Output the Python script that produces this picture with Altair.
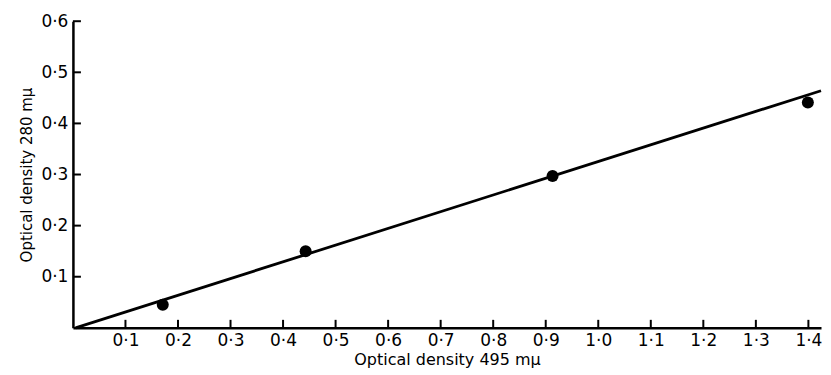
import altair as alt
import pandas as pd

x_obs = [0.171, 0.443, 0.913, 1.399]
y_obs = [0.045, 0.150, 0.297, 0.441]
# Fitted straight line end points
fit_x = [0.005, 1.424]
fit_y = [0.0, 0.464]
# Tick values
x_ticks = [0.1, 0.2, 0.3, 0.4, 0.5, 0.6, 0.7, 0.8, 0.9, 1.0, 1.1, 1.2, 1.3, 1.4]
y_ticks = [0.1, 0.2, 0.3, 0.4, 0.5, 0.6]

W, H = 749, 307
FONT = "DejaVu Sans"
xs = alt.Scale(domain=[0, 1.424], nice=False, zero=False)
ys = alt.Scale(domain=[0, 0.6], nice=False)
label_expr = "replace(format(datum.value, '.1f'), '.', '·')"

common = dict(labelFont=FONT, titleFont=FONT, labelFontSize=17,
              labelColor="black", titleColor="black", titleFontWeight="normal",
              grid=False, tickSize=0, domainColor="black", domainWidth=2.5)
xaxis = alt.Axis(values=x_ticks, labelExpr=label_expr, title="Optical density 495 mμ",
                 titleFontSize=16, labelPadding=5, titlePadding=3, **common)
yaxis = alt.Axis(values=y_ticks, labelExpr=label_expr, title="Optical density 280 mμ",
                 titleFontSize=15, labelPadding=5, titlePadding=6, **common)

pts = pd.DataFrame({"x": x_obs, "y": y_obs})
fit = pd.DataFrame({"x": fit_x, "y": fit_y})
xt = pd.DataFrame({"t": x_ticks})
yt = pd.DataFrame({"t": y_ticks})

points = alt.Chart(pts).mark_point(filled=True, color="black", size=145, opacity=1).encode(
    x=alt.X("x:Q", scale=xs, axis=xaxis),
    y=alt.Y("y:Q", scale=ys, axis=yaxis),
)

line = alt.Chart(fit).mark_line(color="black", strokeWidth=2.8).encode(
    x=alt.X("x:Q", scale=xs, axis=xaxis),
    y=alt.Y("y:Q", scale=ys, axis=yaxis),
)

xtick = alt.Chart(xt).mark_rule(color="black", strokeWidth=2).encode(
    x=alt.X("t:Q", scale=xs, axis=xaxis),
    y=alt.value(H),
    y2=alt.value(H - 8),
)

ytick = alt.Chart(yt).mark_rule(color="black", strokeWidth=2).encode(
    y=alt.Y("t:Q", scale=ys, axis=yaxis),
    x=alt.value(0),
    x2=alt.value(8),
)

chart = alt.layer(points, line, xtick, ytick).properties(
    width=W, height=H,
    autosize=alt.AutoSizeParams(type="none"),
    padding={"left": 65, "top": 13, "right": 2, "bottom": 45},
).configure_view(stroke=None)

chart.save("out.html", embed_options={"renderer": "svg", "actions": False})
